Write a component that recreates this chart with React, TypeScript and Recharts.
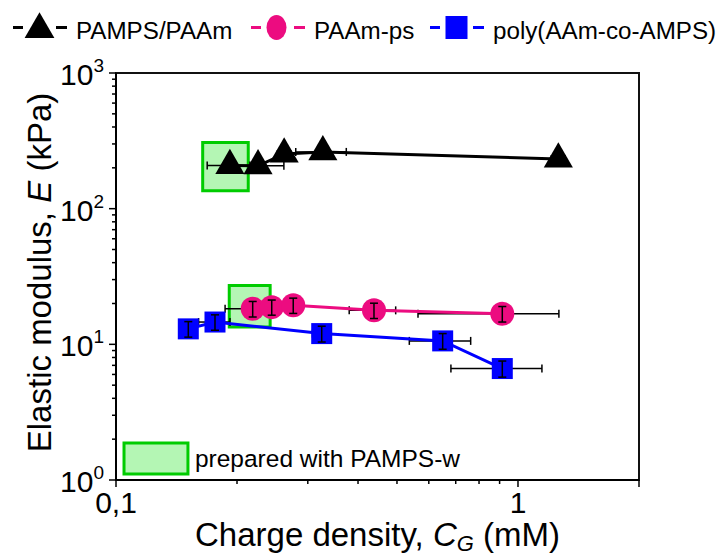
import React from 'react';
import { ScatterChart, Scatter, XAxis, YAxis, ErrorBar, ReferenceArea, Legend, Label } from 'recharts';

const FONT = '"Liberation Sans", Arial, Helvetica, sans-serif';

// ---- data ----
const pampsX = [0.192, 0.2256, 0.262, 0.327, 1.26];
const pampsY = [208, 207, 253, 262, 232];
const pampsXErr = [0.0234, 0.036, 0.01, 0.047, 0.05];
const pampsYErr = [17, 17, 20, 21, 19];

const psX = [0.2188, 0.244, 0.276, 0.4383, 0.914];
const psY = [18.3, 18.8, 19.4, 17.8, 16.8];
const psXErr = [0.032, 0.012, 0.015, 0.058, 0.35];
const psYErr = [2.4, 2.4, 2.5, 2.3, 2.2];

const coX = [0.1513, 0.1763, 0.3249, 0.6496, 0.914];
const coY = [13.0, 14.6, 12.0, 10.6, 6.63];
const coXErr = [0.0072, 0.0158, 0.0168, 0.113, 0.233];
const coYErr = [1.7, 1.9, 1.6, 1.4, 0.9];

const seriesNames = ['PAMPS/PAAm', 'PAAm-ps', 'poly(AAm-co-AMPS)'];
const seriesColors = ['#000000', '#ec0c80', '#0000ff'];

// highlighted "prepared with PAMPS-w" regions [x1, x2, y1, y2]
const pampsWBox1 = [0.1643, 0.2133, 135.6, 307];
const pampsWBox2 = [0.1913, 0.2418, 13.4, 27.2];
const noteBox = [0.1047, 0.151, 1.107, 1.871];
const noteText = 'prepared with PAMPS-w';

const xTicks = [0.1, 0.2, 0.3, 0.4, 0.5, 0.6, 0.7, 0.8, 0.9, 1, 2];
const xTickLabels: Record<string, string> = { '0.1': '0,1', '1': '1' };
const xMajor = [0.1, 1, 2];
const yTicks = [
  1, 2, 3, 4, 5, 6, 7, 8, 9,
  10, 20, 30, 40, 50, 60, 70, 80, 90,
  100, 200, 300, 400, 500, 600, 700, 800, 900, 1000,
];
const yMajor = [1, 10, 100, 1000];

const rows = (xs: number[], ys: number[], xe: number[], ye: number[]) =>
  xs.map((x, i) => ({ x, y: ys[i], xe: xe[i], ye: ye[i] }));

const pampsData = rows(pampsX, pampsY, pampsXErr, pampsYErr);
const psData = rows(psX, psY, psXErr, psYErr);
const coData = rows(coX, coY, coXErr, coYErr);

const GREEN_FILL = '#b4f6b4';
const GREEN_STROKE = '#00cc00';

// ---- markers ----
const Tri = (p: any) => {
  const { cx, cy, fill } = p;
  if (cx == null || cy == null) return <g />;
  const r = 8.4;
  const pts = `${cx},${cy - 2 * r} ${cx - 1.732 * r},${cy + r} ${cx + 1.732 * r},${cy + r}`;
  return <polygon points={pts} fill={fill} />;
};
const Circ = (p: any) => {
  const { cx, cy, fill } = p;
  if (cx == null || cy == null) return <g />;
  return <circle cx={cx} cy={cy} r={12} fill={fill} />;
};
const Sq = (p: any) => {
  const { cx, cy, fill } = p;
  if (cx == null || cy == null) return <g />;
  return <rect x={cx - 10.5} y={cy - 10.5} width={21} height={21} fill={fill} />;
};
const Nothing = () => <g />;
const shapes = [Tri, Circ, Sq];

// ---- ticks ----
const XTick = (props: any) => {
  const { x, y, payload } = props;
  const v = payload.value;
  const major = xMajor.includes(v);
  const label = xTickLabels[String(v)];
  return (
    <g>
      <line x1={x} x2={x} y1={y} y2={y + (major ? 7 : 4)} stroke="#000" strokeWidth={1.5} />
      {label && (
        <text x={x} y={y + 33} textAnchor="middle" fontSize={30} fontFamily={FONT} fill="#000">
          {label}
        </text>
      )}
    </g>
  );
};

const YTick = (props: any) => {
  const { x, y, payload } = props;
  const v = payload.value;
  const major = yMajor.includes(v);
  const exp = Math.round(Math.log10(v));
  return (
    <g>
      <line x1={x - (major ? 7 : 4)} x2={x} y1={y} y2={y} stroke="#000" strokeWidth={1.5} />
      {major && (
        <text x={x - 12} y={y + 12} textAnchor="end" fontSize={30} fontFamily={FONT} fill="#000">
          <tspan>10</tspan>
          <tspan fontSize={19} dy={-13}>{exp}</tspan>
        </text>
      )}
    </g>
  );
};

const XTitle = (props: any) => {
  const vb = props.viewBox || { x: 116, y: 480, width: 523 };
  const cx = vb.x + vb.width / 2;
  return (
    <text x={cx} y={vb.y + 66} textAnchor="middle" fontSize={33} fontFamily={FONT} fill="#000">
      <tspan>Charge density, </tspan>
      <tspan fontStyle="italic">C</tspan>
      <tspan fontStyle="italic" fontSize={22} dy={5}>G</tspan>
      <tspan dy={-5}> (mM)</tspan>
    </text>
  );
};

const YTitle = (props: any) => {
  const vb = props.viewBox || { x: 0, y: 73, height: 407 };
  const x = vb.x + 51;
  const y = vb.y + vb.height / 2 - 4;
  return (
    <text
      x={x}
      y={y}
      transform={`rotate(-90, ${x}, ${y})`}
      textAnchor="middle"
      fontSize={33}
      fontFamily={FONT}
      fill="#000"
    >
      <tspan>Elastic modulus, </tspan>
      <tspan fontStyle="italic">E</tspan>
      <tspan> (kPa)</tspan>
    </text>
  );
};

// ---- legend ----
const legendX = [13, 251, 430];
const LegendContent = () => {
  const cy = 27.5;
  return (
    <svg width={720} height={60} style={{ display: 'block' }}>
      {seriesNames.map((name, i) => {
        const x0 = legendX[i];
        const col = seriesColors[i];
        const mx = x0 + 26.5;
        let marker;
        if (i === 0) {
          const r = 8.6;
          marker = (
            <polygon
              points={`${mx},${cy - 2 * r + 2} ${mx - 1.732 * r},${cy + r + 2} ${mx + 1.732 * r},${cy + r + 2}`}
              fill={col}
            />
          );
        } else if (i === 1) {
          marker = <ellipse cx={mx - 1} cy={cy} rx={10} ry={12.5} fill={col} />;
        } else {
          marker = <rect x={mx - 11} y={cy - 11.5} width={22} height={23} fill={col} />;
        }
        return (
          <g key={name}>
            <line x1={x0} x2={x0 + 10} y1={cy} y2={cy} stroke={col} strokeWidth={3} />
            <line x1={x0 + 43} x2={x0 + 54} y1={cy} y2={cy} stroke={col} strokeWidth={3} />
            {marker}
            <text x={x0 + 63} y={cy + 11} fontSize={24.2} fontFamily={FONT} fill="#000">
              {name}
            </text>
          </g>
        );
      })}
    </svg>
  );
};

const datasets = [pampsData, psData, coData];

export default function App() {
  return (
    <div style={{ position: 'absolute', left: 0, top: 0, width: 720, height: 556, fontFamily: FONT, background: '#fff' }}>
      <ScatterChart width={720} height={556} margin={{ top: 73, right: 81, bottom: 0, left: 0 }}>
        <XAxis
          dataKey="x"
          type="number"
          scale="log"
          domain={[0.1, 2]}
          allowDataOverflow
          ticks={xTicks}
          interval={0}
          tick={<XTick />}
          tickLine={false}
          tickSize={0}
          tickMargin={0}
          height={76}
          axisLine={{ stroke: '#000', strokeWidth: 2 }}
        >
          <Label content={<XTitle />} />
        </XAxis>
        <YAxis
          dataKey="y"
          type="number"
          scale="log"
          domain={[1, 1000]}
          allowDataOverflow
          ticks={yTicks}
          interval={0}
          tick={<YTick />}
          tickLine={false}
          tickSize={0}
          tickMargin={0}
          width={116}
          axisLine={{ stroke: '#000', strokeWidth: 2 }}
        >
          <Label content={<YTitle />} />
        </YAxis>
        <ReferenceArea
          x1={0.1}
          x2={2}
          y1={1}
          y2={1000}
          fill="none"
          fillOpacity={0}
          stroke="#111"
          strokeWidth={2}
          ifOverflow="visible"
        />
        <ReferenceArea
          x1={pampsWBox1[0]}
          x2={pampsWBox1[1]}
          y1={pampsWBox1[2]}
          y2={pampsWBox1[3]}
          fill={GREEN_FILL}
          fillOpacity={1}
          stroke={GREEN_STROKE}
          strokeWidth={3}
          ifOverflow="visible"
        />
        <ReferenceArea
          x1={pampsWBox2[0]}
          x2={pampsWBox2[1]}
          y1={pampsWBox2[2]}
          y2={pampsWBox2[3]}
          fill={GREEN_FILL}
          fillOpacity={1}
          stroke={GREEN_STROKE}
          strokeWidth={3}
          ifOverflow="visible"
        />
        <ReferenceArea
          x1={noteBox[0]}
          x2={noteBox[1]}
          y1={noteBox[2]}
          y2={noteBox[3]}
          fill={GREEN_FILL}
          fillOpacity={1}
          stroke={GREEN_STROKE}
          strokeWidth={3}
          ifOverflow="visible"
          label={{ value: noteText, position: 'right', offset: 7, fill: '#000', fontSize: 24.5, fontFamily: FONT }}
        />
        {datasets.map((d, i) => (
          <Scatter
            key={`hx-${i}`}
            data={d}
            shape={<Nothing />}
            legendType="none"
            isAnimationActive={false}
          >
            <ErrorBar dataKey="xe" direction="x" width={4} stroke="#000" strokeWidth={1.5} />
          </Scatter>
        ))}
        {datasets.map((d, i) => {
          const S = shapes[i];
          return (
            <Scatter
              key={`m-${i}`}
              name={seriesNames[i]}
              data={d}
              fill={seriesColors[i]}
              shape={<S />}
              line={{ stroke: seriesColors[i], strokeWidth: 3 }}
              isAnimationActive={false}
            />
          );
        })}
        {datasets.map((d, i) => (
          <Scatter
            key={`vy-${i}`}
            data={d}
            shape={<Nothing />}
            legendType="none"
            isAnimationActive={false}
            zIndex={700}
          >
            <ErrorBar dataKey="ye" direction="y" width={4} stroke="#000" strokeWidth={1.5} zIndex={700} />
          </Scatter>
        ))}
        <Legend
          layout="vertical"
          align="center"
          verticalAlign="middle"
          content={<LegendContent />}
          wrapperStyle={{ position: 'absolute', top: 0, left: 0, width: 720, height: 60 }}
        />
      </ScatterChart>
    </div>
  );
}
